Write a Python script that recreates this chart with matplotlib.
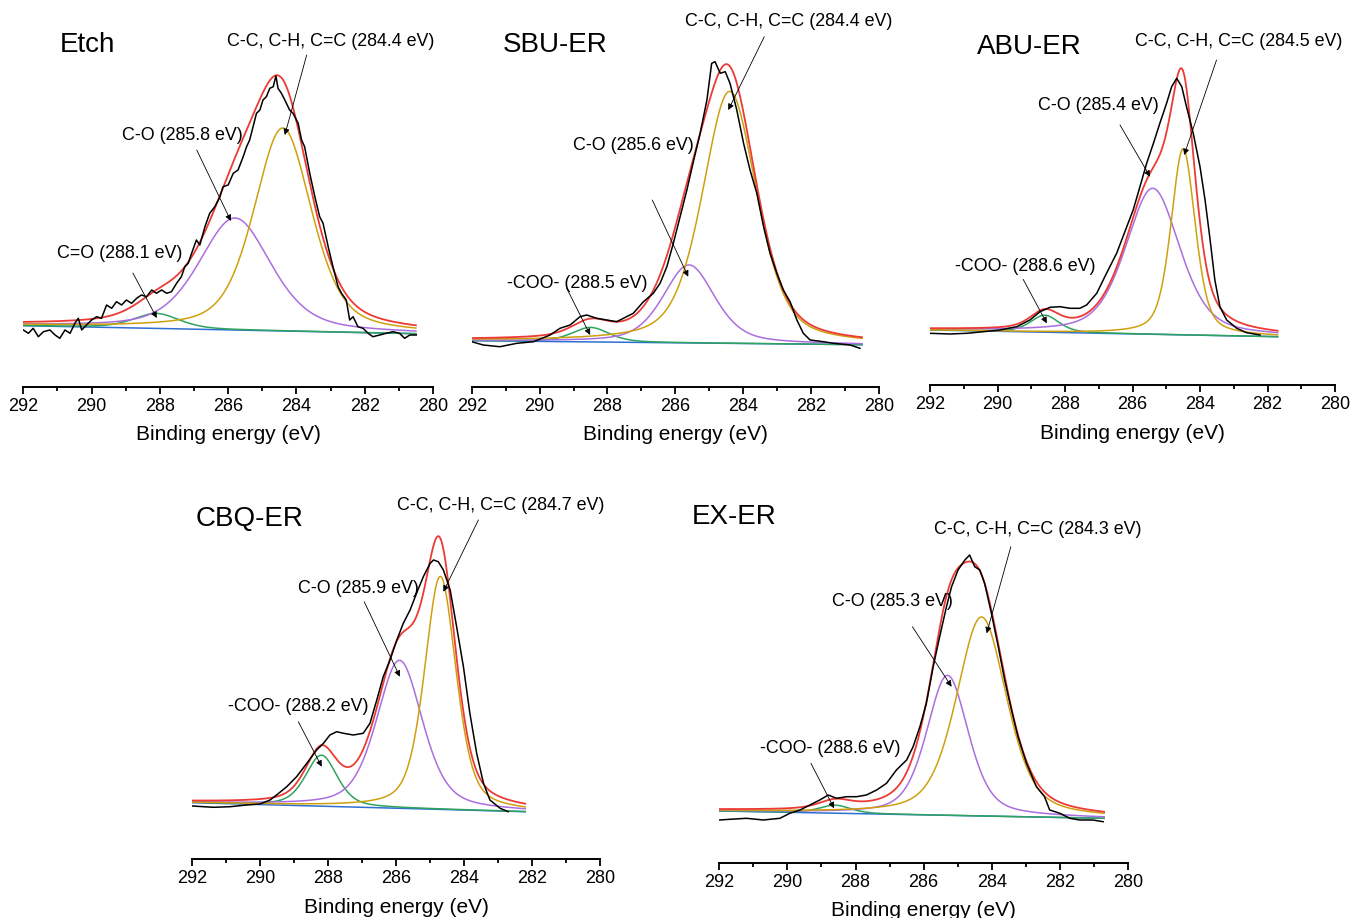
import numpy as np
import matplotlib
matplotlib.use("Agg")
import matplotlib.pyplot as plt
from matplotlib.ticker import MultipleLocator

plt.rcParams["font.family"] = ["Liberation Sans", "DejaVu Sans"]

W, H = 1353, 918

C_RAW, C_FIT, C_CC, C_CO, C_COO, C_BG = "black", "#ec3b36", "#cfa00e", "#ab6ee0", "#2ea35f", "#2f6fd3"

# ---- data: raw spectra (binding energy eV, intensity a.u.) ------------------
etch_E = [292.00, 291.85, 291.71, 291.56, 291.41, 291.22, 291.07, 290.93, 290.78, 290.63,
          290.49, 290.39, 290.29, 290.15, 290.00, 289.85, 289.71, 289.56, 289.41, 289.27,
          289.12, 288.98, 288.83, 288.68, 288.54, 288.39, 288.24, 288.10, 287.95, 287.80,
          287.66, 287.51, 287.37, 287.27, 287.17, 287.07, 286.93, 286.83, 286.68, 286.54,
          286.39, 286.24, 286.15, 286.00, 285.85, 285.71, 285.56, 285.46, 285.37, 285.27,
          285.17, 285.07, 284.98, 284.88, 284.78, 284.68, 284.60, 284.54, 284.44, 284.34,
          284.20, 284.10, 283.95, 283.85, 283.76, 283.61, 283.46, 283.32, 283.22, 283.07,
          282.93, 282.78, 282.68, 282.54, 282.44, 282.34, 282.20, 282.05, 281.90, 281.76,
          281.56, 281.37, 281.17, 280.98, 280.83, 280.68, 280.49]
etch_I = [56.7, 53.4, 58.4, 50.0, 55.0, 56.7, 51.7, 48.4, 56.7, 53.4,
          63.4, 68.4, 56.7, 61.7, 66.7, 70.0, 68.4, 81.7, 78.4, 85.0,
          81.7, 86.7, 83.4, 88.4, 91.7, 90.0, 96.7, 93.4, 96.7, 93.4,
          95.0, 103.4, 110.0, 120.0, 123.4, 133.4, 146.7, 141.7, 160.0, 173.4,
          180.0, 190.0, 200.0, 201.7, 213.4, 216.7, 230.0, 240.0, 246.7, 260.0,
          273.4, 276.7, 286.7, 290.0, 298.4, 300.0, 310.7, 298.4, 293.4, 286.7,
          276.7, 273.4, 263.4, 246.7, 240.0, 213.4, 190.0, 170.0, 163.4, 140.0,
          120.0, 100.0, 93.4, 86.7, 66.7, 70.0, 60.0, 58.4, 53.4, 50.0,
          51.7, 53.4, 55.0, 53.4, 48.4, 51.7, 51.7]

sbu_E = [292.0, 291.66, 291.17, 290.67, 290.18, 289.69, 289.4, 289.1, 288.81, 288.61, 288.32,
         288.02, 287.73, 287.53, 287.24, 286.94, 286.65, 286.45, 286.25, 286.06, 285.86, 285.66,
         285.48, 285.27, 285.07, 284.93, 284.83, 284.68, 284.53, 284.39, 284.19, 283.99, 283.8,
         283.6, 283.4, 283.21, 283.01, 282.82, 282.62, 282.42, 282.23, 282.03, 281.64, 281.34,
         280.85, 280.56]
sbu_I = [45.0, 41.7, 40.0, 43.4, 45.0, 51.7, 58.4, 61.7, 70.0, 71.7, 68.4, 66.7, 65.0, 68.4,
         73.4, 85.0, 93.4, 103.4, 120.0, 143.4, 170.0, 196.7, 223.4, 253.4, 286.7, 323.4, 325.0,
         313.4, 315.0, 303.4, 276.7, 243.4, 216.7, 193.4, 160.0, 133.4, 113.4, 96.7, 85.0, 66.7,
         53.4, 46.7, 45.0, 43.4, 41.7, 38.4]

abu_E = [292.0, 291.41, 290.91, 290.42, 289.93, 289.43, 289.04, 288.74, 288.44, 288.15, 287.85,
         287.56, 287.36, 287.06, 286.77, 286.47, 286.17, 285.98, 285.78, 285.58, 285.38, 285.19,
         284.99, 284.84, 284.69, 284.54, 284.4, 284.2, 284.0, 283.85, 283.7, 283.56, 283.41,
         283.21, 282.91, 282.62, 282.22]
abu_I = [51.7, 51.0, 51.7, 53.3, 55.0, 58.3, 65.0, 73.3, 77.7, 78.3, 76.7, 76.7, 80.0, 91.7,
         111.7, 131.7, 158.3, 175.0, 198.3, 221.7, 241.7, 261.7, 281.7, 298.3, 306.7, 298.3,
         278.3, 251.7, 218.3, 185.0, 145.0, 105.0, 78.3, 65.0, 56.7, 52.3, 50.0]

cbq_E = [292.0, 291.38, 290.89, 290.4, 290.01, 289.71, 289.52, 289.22, 288.93, 288.63, 288.34,
         288.14, 287.95, 287.75, 287.55, 287.26, 286.97, 286.77, 286.57, 286.38, 286.18, 285.98,
         285.79, 285.59, 285.4, 285.2, 285.0, 284.9, 284.76, 284.61, 284.41, 284.22, 284.02,
         283.83, 283.63, 283.43, 283.24, 282.94, 282.7]
cbq_I = [53.0, 51.7, 52.3, 54.0, 55.0, 59.0, 64.0, 72.3, 82.3, 95.7, 109.0, 115.7, 124.0, 127.3,
         125.7, 124.0, 125.7, 135.7, 159.0, 182.3, 199.0, 219.0, 235.7, 249.0, 265.7, 282.3,
         295.7, 299.0, 297.3, 289.0, 269.0, 232.3, 192.3, 145.7, 105.7, 75.7, 59.0, 50.7, 47.3]

ex_E = [292.0, 291.69, 291.2, 290.71, 290.22, 289.93, 289.63, 289.34, 289.05, 288.8, 288.56,
        288.26, 287.97, 287.68, 287.38, 287.09, 286.8, 286.5, 286.31, 286.11, 285.92, 285.72,
        285.53, 285.33, 285.18, 284.99, 284.79, 284.65, 284.5, 284.35, 284.21, 284.01, 283.81,
        283.62, 283.42, 283.23, 282.98, 282.69, 282.45, 282.3, 282.0, 281.71, 281.42, 281.03,
        280.73]
ex_I = [42.7, 43.4, 44.4, 42.7, 44.4, 49.4, 52.7, 57.7, 62.7, 67.7, 64.4, 66.0, 66.0, 67.7,
        72.7, 79.4, 92.7, 102.7, 116.0, 136.0, 159.4, 196.0, 226.0, 256.0, 276.0, 292.7, 302.7,
        307.7, 296.0, 292.7, 279.4, 249.4, 216.0, 182.7, 152.7, 126.0, 99.4, 76.0, 66.0, 52.7,
        49.4, 44.4, 42.7, 42.7, 41.0]

# ---- fitted components: order C-C, C-O, C=O/-COO- ---------------------------
etch_center = [284.4, 285.8, 288.1]
etch_height = [203, 112, 15]
etch_fwhm = [2.0, 2.5, 1.6]
etch_bg = [61, 53]
etch_range = [292.0, 280.5]

sbu_center = [284.4, 285.6, 288.5]
sbu_height = [252, 78, 14.5]
sbu_fwhm = [1.9, 1.8, 1.3]
sbu_bg = [46, 42]
sbu_range = [292.0, 280.5]

abu_center = [284.5, 285.4, 288.6]
abu_height = [186, 146, 17]
abu_fwhm = [0.85, 1.9, 1.0]
abu_bg = [55, 48.3]
abu_range = [292.0, 281.7]

cbq_center = [284.7, 285.9, 288.2]
cbq_height = [233, 148, 51]
cbq_fwhm = [1.1, 1.6, 1.1]
cbq_bg = [56.3, 47.3]
cbq_range = [292.0, 282.2]

ex_center = [284.3, 285.3, 288.6]
ex_height = [199, 140, 8]
ex_fwhm = [1.75, 1.45, 1.1]
ex_bg = [51.7, 44.4]
ex_range = [292.0, 280.7]

GL_MIX = 0.45  # Lorentzian fraction of the pseudo-Voigt line shape

LABELS_ETCH = ["C-C, C-H, C=C (284.4 eV)", "C-O (285.8 eV)", "C=O (288.1 eV)"]
LABELS_SBU = ["C-C, C-H, C=C (284.4 eV)", "C-O (285.6 eV)", "-COO- (288.5 eV)"]
LABELS_ABU = ["C-C, C-H, C=C (284.5 eV)", "C-O (285.4 eV)", "-COO- (288.6 eV)"]
LABELS_CBQ = ["C-C, C-H, C=C (284.7 eV)", "C-O (285.9 eV)", "-COO- (288.2 eV)"]
LABELS_EX = ["C-C, C-H, C=C (284.3 eV)", "C-O (285.3 eV)", "-COO- (288.6 eV)"]


def pseudo_voigt(x, c, h, w, eta=GL_MIX):
    u = 2 * (x - c) / w
    return h * (eta / (1 + u ** 2) + (1 - eta) * np.exp(-np.log(2) * u ** 2))


# layout: axes box in figure pixels (x at 292 eV, x at 280 eV, axis-line y, top y)
# annotation positions in data coords: (text E, text I, arrow tail E, I, head E, I)
PANELS = [
    dict(title="Etch", box=(23.3, 433, 386.7, 0), title_at=(290.93, 341.7),
         E=etch_E, I=etch_I, center=etch_center, height=etch_height, fwhm=etch_fwhm,
         bg=etch_bg, rng=etch_range, labels=LABELS_ETCH,
         notes=[(286.04, 344.7, 283.70, 331.7, 284.34, 251.7),
                (289.11, 251.7, 286.92, 236.7, 285.92, 165.7),
                (291.01, 133.7, 288.79, 113.7, 288.09, 68.7)]),
    dict(title="SBU-ER", box=(471.7, 879, 386.7, 0), title_at=(291.08, 341.7),
         E=sbu_E, I=sbu_I, center=sbu_center, height=sbu_height, fwhm=sbu_fwhm,
         bg=sbu_bg, rng=sbu_range, labels=LABELS_SBU,
         notes=[(285.72, 365.0, 283.38, 350.0, 284.44, 276.7),
                (289.01, 241.7, 286.68, 186.7, 285.62, 110.0),
                (290.95, 103.4, 289.20, 98.4, 288.51, 51.7)]),
    dict(title="ABU-ER", box=(930, 1335, 385, 0), title_at=(290.60, 338.3),
         E=abu_E, I=abu_I, center=abu_center, height=abu_height, fwhm=abu_fwhm,
         bg=abu_bg, rng=abu_range, labels=LABELS_ABU,
         notes=[(285.93, 343.3, 283.51, 325.0, 284.47, 230.0),
                (288.81, 280.0, 286.37, 260.0, 285.48, 208.3),
                (291.26, 118.3, 289.24, 105.7, 288.54, 61.7)]),
    dict(title="CBQ-ER", box=(192.3, 600, 859, 480), title_at=(291.89, 339.7),
         E=cbq_E, I=cbq_I, center=cbq_center, height=cbq_height, fwhm=cbq_fwhm,
         bg=cbq_bg, rng=cbq_range, labels=LABELS_CBQ,
         notes=[(285.98, 354.0, 283.58, 339.0, 284.61, 267.3),
                (288.88, 270.7, 286.94, 257.3, 285.89, 182.3),
                (290.94, 152.3, 288.88, 137.3, 288.19, 92.3)]),
    dict(title="EX-ER", box=(719.3, 1128, 862.7, 480), title_at=(292.81, 346.0),
         E=ex_E, I=ex_I, center=ex_center, height=ex_height, fwhm=ex_fwhm,
         bg=ex_bg, rng=ex_range, labels=LABELS_EX,
         notes=[(285.69, 332.7, 283.44, 316.0, 284.15, 229.4),
                (288.70, 261.0, 286.33, 236.0, 285.18, 176.0),
                (290.81, 114.4, 289.31, 99.4, 288.63, 54.4)]),
]

fig = plt.figure(figsize=(W / 100, H / 100), dpi=100)

for p in PANELS:
    x0, x1, yax, ytop = p["box"]
    ax = fig.add_axes([x0 / W, 1 - yax / H, (x1 - x0) / W, (yax - ytop) / H])
    ax.patch.set_alpha(0)

    x = np.linspace(p["rng"][0], p["rng"][1], 800)
    bg = np.interp(x, p["rng"][::-1], p["bg"][::-1])
    comps = [pseudo_voigt(x, c, h, w) for c, h, w in zip(p["center"], p["height"], p["fwhm"])]
    ax.plot(x, bg, color=C_BG, lw=1.1)
    for comp, col in zip(comps[::-1], [C_COO, C_CO, C_CC]):
        ax.plot(x, bg + comp, color=col, lw=1.1)
    ax.plot(x, bg + np.sum(comps, axis=0), color=C_FIT, lw=1.3)
    ax.plot(p["E"], p["I"], color=C_RAW, lw=1.1)

    for lab, (tx, ty, ax0, ay0, ax1, ay1) in zip(p["labels"], p["notes"]):
        ax.text(tx, ty, lab, fontsize=12.9, ha="left", va="center")
        ax.annotate("", xy=(ax1, ay1), xytext=(ax0, ay0),
                    arrowprops=dict(arrowstyle="-|>", lw=0.6, color="black",
                                    mutation_scale=9, shrinkA=0, shrinkB=0))
    ax.text(p["title_at"][0], p["title_at"][1], p["title"], fontsize=20,
            ha="left", va="center")

    ax.set_xlim(292, 280)
    ax.set_ylim(0, yax - ytop)
    ax.xaxis.set_major_locator(MultipleLocator(2))
    ax.xaxis.set_minor_locator(MultipleLocator(1))
    for s in ("top", "left", "right"):
        ax.spines[s].set_visible(False)
    ax.spines["bottom"].set_linewidth(1.4)
    ax.set_yticks([])
    ax.tick_params(axis="x", which="major", direction="out", length=5, width=1.3,
                   labelsize=13, pad=3)
    ax.tick_params(axis="x", which="minor", direction="out", length=3, width=1.3)
    ax.set_xlabel("Binding energy (eV)", fontsize=15, labelpad=7.5)

fig.savefig("out.png", dpi=100)
